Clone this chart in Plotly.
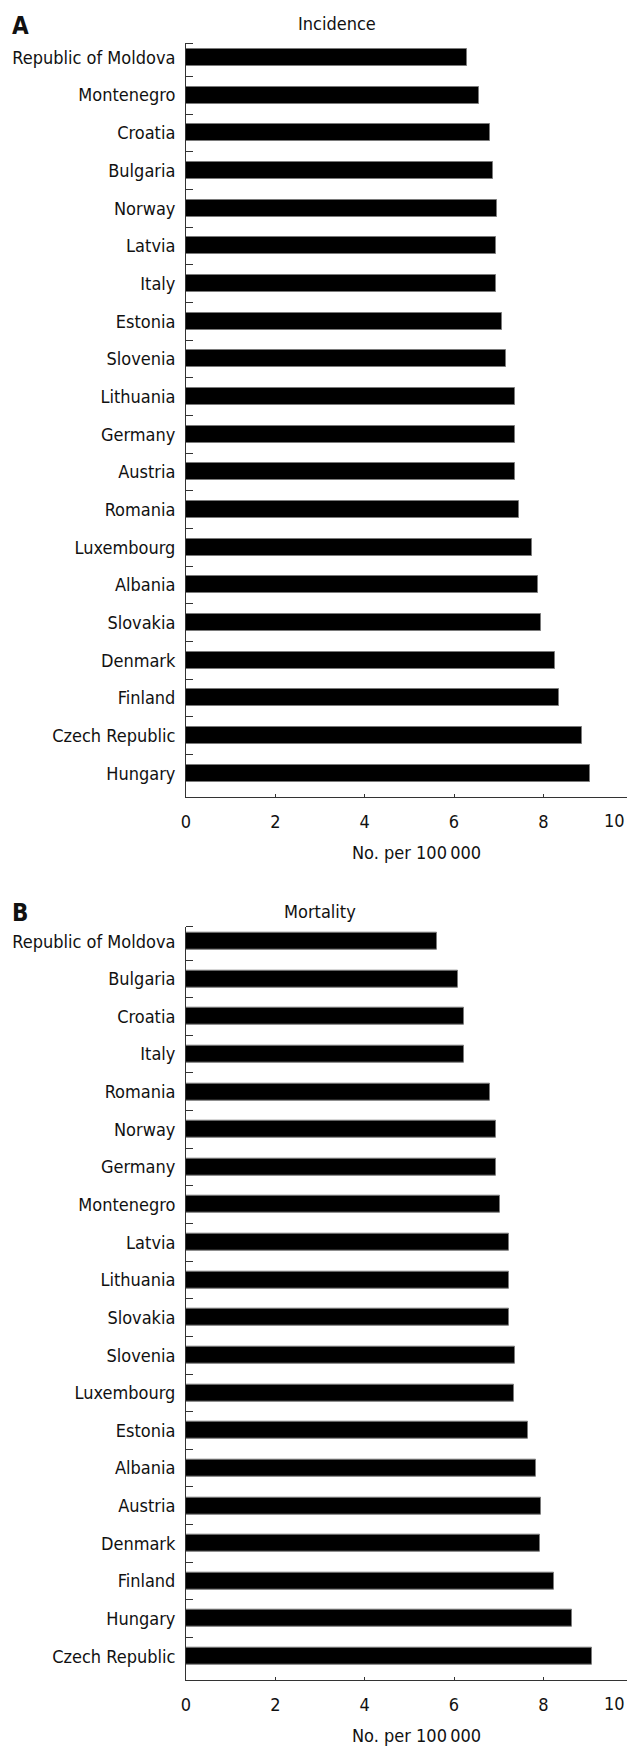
import plotly.graph_objects as go

# Incidence per 100 000, ordered top to bottom
inc_countries = ["Republic of Moldova", "Montenegro", "Croatia", "Bulgaria", "Norway",
                 "Latvia", "Italy", "Estonia", "Slovenia", "Lithuania", "Germany",
                 "Austria", "Romania", "Luxembourg", "Albania", "Slovakia", "Denmark",
                 "Finland", "Czech Republic", "Hungary"]
inc_values = [6.28, 6.56, 6.80, 6.87, 6.96, 6.95, 6.95, 7.07, 7.16, 7.36, 7.37,
              7.37, 7.45, 7.75, 7.87, 7.95, 8.25, 8.36, 8.87, 9.04]

# Mortality per 100 000, ordered top to bottom
mort_countries = ["Republic of Moldova", "Bulgaria", "Croatia", "Italy", "Romania",
                  "Norway", "Germany", "Montenegro", "Latvia", "Lithuania", "Slovakia",
                  "Slovenia", "Luxembourg", "Estonia", "Albania", "Austria", "Denmark",
                  "Finland", "Hungary", "Czech Republic"]
mort_values = [5.63, 6.10, 6.22, 6.22, 6.81, 6.93, 6.93, 7.04, 7.23, 7.22, 7.22,
               7.36, 7.34, 7.66, 7.83, 7.94, 7.93, 8.24, 8.65, 9.08]

x_ticks = [0, 2, 4, 6, 8]
x_title = "No. per 100\u2009000"

W, H = 628, 1746
L, R = 186, 1
FONT = "DejaVu Sans Condensed, DejaVu Sans, sans-serif"
FS = 18
INK = "#111111"
AXIS = "#333333"


def px_x(px):
    return (px - L) / (W - L - R)


def px_y(py):
    return 1 - py / H


fig = go.Figure()

for i, (names, vals) in enumerate([(inc_countries, inc_values), (mort_countries, mort_values)]):
    pos = list(range(len(names)))
    fig.add_trace(go.Bar(
        x=vals, y=pos, orientation="h", width=0.45,
        marker=dict(color="#000000", line=dict(color="#7a7a7a", width=1)),
        xaxis="x" if i == 0 else "x2", yaxis="y" if i == 0 else "y2",
        showlegend=False, hoverinfo="x+text", text=names, textposition="none",
    ))

panels = [(43, 797), (926.7, 1680)]
x_range = [0, (W - L - R) / 44.67]
y_range = [19.63, -0.385]

for i, (top, bottom) in enumerate(panels):
    names = inc_countries if i == 0 else mort_countries
    sfx = "" if i == 0 else "2"
    fig.layout["xaxis" + sfx] = dict(
        domain=[0, 1], anchor="y" + sfx, range=x_range,
        tickmode="array", tickvals=x_ticks, ticktext=[str(v) for v in x_ticks],
        ticks="inside", ticklen=3, tickcolor=AXIS, tickwidth=1,
        showline=True, linecolor=AXIS, linewidth=1,
        showgrid=False, zeroline=False,
        tickfont=dict(family=FONT, size=FS, color=INK),
        ticklabelstandoff=8, fixedrange=True,
    )
    fig.layout["yaxis" + sfx] = dict(
        domain=[px_y(bottom), px_y(top)], anchor="x" + sfx, range=y_range,
        tickmode="array", tickvals=list(range(len(names))), ticktext=names,
        ticks="", showline=True, linecolor=AXIS, linewidth=1,
        showgrid=False, zeroline=False,
        minor=dict(tickmode="array",
                   tickvals=[-0.385] + [k + 0.5 for k in range(len(names) - 1)],
                   ticks="inside", ticklen=7, tickcolor=AXIS, tickwidth=1,
                   showgrid=False),
        tickfont=dict(family=FONT, size=FS, color=INK),
        ticklabelstandoff=6, fixedrange=True,
    )

annotations = []


def note(text, x, y, size=FS, bold=False, xanchor="center"):
    annotations.append(dict(
        text=f"<b>{text}</b>" if bold else text,
        x=px_x(x), y=px_y(y), xref="paper", yref="paper",
        xanchor=xanchor, yanchor="middle", showarrow=False,
        font=dict(family=FONT, size=size, color=INK),
    ))


note("A", 10, 26, size=24, bold=True, xanchor="left")
note("Incidence", 337, 24)
note("B", 10, 913, size=24, bold=True, xanchor="left")
note("Mortality", 320, 911)
for axis_y in (797, 1680):
    note("10", 627, axis_y + 23, xanchor="right")
    note(x_title, 416, axis_y + 55)

fig.update_layout(
    width=W, height=H,
    margin=dict(l=L, r=R, t=0, b=0),
    paper_bgcolor="white", plot_bgcolor="white",
    bargap=0, annotations=annotations,
    font=dict(family=FONT, color=INK),
)

fig.write_html("out.html")
